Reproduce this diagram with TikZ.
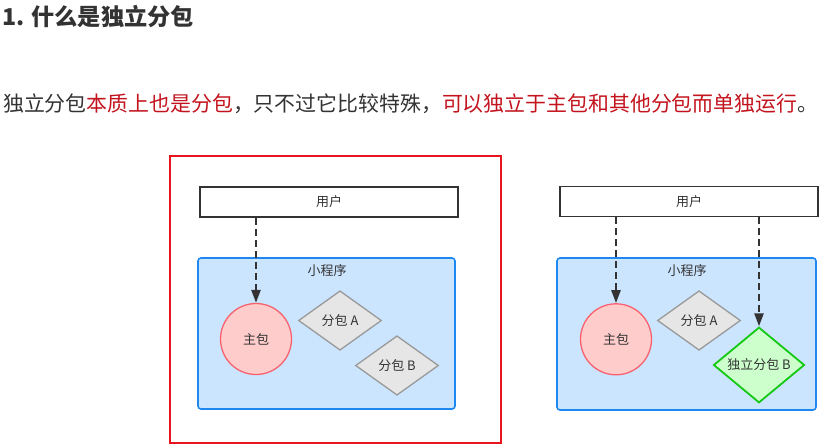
\documentclass[tikz,border=0pt]{standalone}
\usepackage{fontspec}
\setmainfont{Noto Sans CJK SC}
\usetikzlibrary{shapes.geometric,arrows.meta}
\definecolor{darktext}{HTML}{333333}
\definecolor{redtext}{HTML}{C3141E}
\definecolor{framered}{HTML}{E8141E}
\definecolor{appfill}{HTML}{CCE5FF}
\definecolor{appline}{HTML}{1E88F0}
\definecolor{mainfill}{HTML}{FFCCCC}
\definecolor{mainline}{HTML}{F8616E}
\definecolor{subfill}{HTML}{E6E6E6}
\definecolor{subline}{HTML}{999999}
\definecolor{indfill}{HTML}{CCFFCC}
\definecolor{indline}{HTML}{14C814}
\tikzset{
  userbox/.style={draw=darktext, line width=1.6pt, fill=white, minimum width=258pt, minimum height=30pt, inner sep=0pt, font=\fontsize{13}{15}\selectfont, text=darktext},
  appbox/.style={draw=appline, line width=1.6pt, fill=appfill, rounded corners=3pt, inner sep=0pt},
  applabel/.style={font=\fontsize{13}{15}\selectfont, text=darktext, inner sep=0pt},
  mainpkg/.style={circle, draw=mainline, line width=1.3pt, fill=mainfill, minimum size=71pt, inner sep=0pt, font=\fontsize{13}{15}\selectfont, text=darktext},
  subpkg/.style={diamond, draw=subline, line width=1.3pt, fill=subfill, minimum width=83pt, minimum height=59.5pt, inner sep=0pt, font=\fontsize{13}{15}\selectfont, text=darktext},
  indpkg/.style={diamond, draw=indline, line width=1.8pt, fill=indfill, minimum width=91pt, minimum height=67pt, inner sep=0pt, font=\fontsize{13}{15}\selectfont, text=darktext},
  visit/.style={draw=darktext, line width=2.4pt, dash pattern=on 7pt off 4pt, -{Triangle[width=9pt,length=13pt]}}
}
\begin{document}
\begin{tikzpicture}[x=1pt,y=-1pt]
\useasboundingbox (0,0) rectangle (820,445);

\node[anchor=west, inner sep=0pt, text=darktext, font=\fontsize{23.2}{27}\selectfont\bfseries] (title) at (2,17) {1. 什么是独立分包};
\node[anchor=west, inner sep=0pt, text=darktext, font=\fontsize{20.9}{25}\selectfont] (intro) at (3,104)
  {独立分包\textcolor{redtext}{本质上也是分包}，只不过它比较特殊，\textcolor{redtext}{可以独立于主包和其他分包而单独运行}。};

\draw[framered, line width=2pt] (170,156) rectangle (501,443);

\node[userbox] (user1) at (329,202) {用户};
\node[appbox, minimum width=257pt, minimum height=151pt] (app1) at (326.5,333.5) {};
\node[applabel] (applabel1) at (327,271) {小程序};
\node[mainpkg] (main1) at (256,339) {主包};
\node[subpkg] (subA1) at (340,320.5) {分包 A};
\node[subpkg] (subB1) at (397,365.5) {分包 B};
\draw[visit] (user1.south -| main1) -- (main1);

\node[userbox] (user2) at (689,201.5) {用户};
\node[appbox, minimum width=259pt, minimum height=152pt] (app2) at (686.5,334) {};
\node[applabel] (applabel2) at (687,271) {小程序};
\node[mainpkg] (main2) at (616,339.3) {主包};
\node[subpkg] (subA2) at (699,320.5) {分包 A};
\node[indpkg] (indB2) at (759,365) {独立分包 B};
\draw[visit] (user2.south -| main2) -- (main2);
\draw[visit] (user2.south -| indB2) -- (indB2);
\end{tikzpicture}
\end{document}
